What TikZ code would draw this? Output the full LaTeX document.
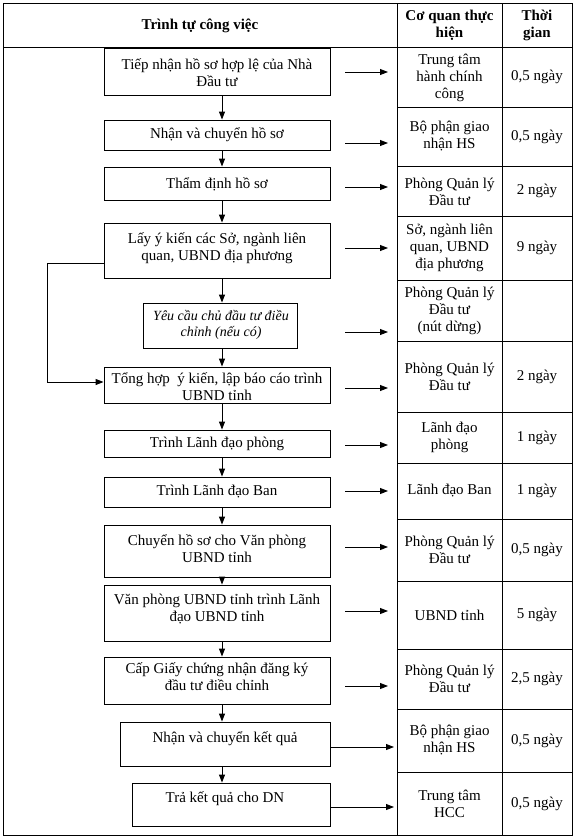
\documentclass[tikz,border=0pt]{standalone}
\usepackage{fontspec}
\setmainfont{Liberation Serif}
\usetikzlibrary{arrows.meta}
\begin{document}
\begin{tikzpicture}[x=1pt,y=-1pt,
  box/.style={draw, line width=0.9pt, inner sep=0pt},
  txt/.style={align=center, inner sep=0pt, font=\fontsize{15}{17}\selectfont},
  itx/.style={align=center, inner sep=0pt, font=\fontsize{14}{16.5}\selectfont\itshape},
  hdr/.style={align=center, inner sep=0pt, font=\fontsize{15}{17}\selectfont\bfseries},
  arr/.style={-{Triangle[length=8pt,width=6pt]}, line width=0.9pt},
  rule/.style={line width=0.9pt}]
\useasboundingbox (0,0) rectangle (575,839);
% table frame
\draw[rule] (3,3) rectangle (572,835);
\draw[rule] (3,47) -- (572,47);
\draw[rule] (397,3) -- (397,835);
\draw[rule] (502,3) -- (502,835);
\foreach \yy in {107,166,216,280,341,412,463,519,581,649,709,772}
  \draw[rule] (397,\yy) -- (572,\yy);
% header
\node[hdr] (h1) at (200,26) {Trình tự công việc};
\node[hdr] (h2) at (449.5,25) {Cơ quan thực\\hiện};
\node[hdr] (h3) at (537,25) {Thời\\gian};
% right columns
\node[txt] (c1) at (449.5,78) {Trung tâm\\hành chính\\công};
\node[txt] (d1) at (537,77) {0,5 ngày};
\node[txt] (c2) at (449.5,136.5) {Bộ phận giao\\nhận HS};
\node[txt] (d2) at (537,136.5) {0,5 ngày};
\node[txt] (c3) at (449.5,192) {Phòng Quản lý\\Đầu tư};
\node[txt] (d3) at (537,191) {2 ngày};
\node[txt] (c4) at (449.5,248) {Sở, ngành liên\\quan, UBND\\địa phương};
\node[txt] (d4) at (537,248) {9 ngày};
\node[txt] (c5) at (449.5,311) {Phòng Quản lý\\Đầu tư\\(nút dừng)};
\node[txt] (c6) at (449.5,376.5) {Phòng Quản lý\\Đầu tư};
\node[txt] (d6) at (537,376.5) {2 ngày};
\node[txt] (c7) at (449.5,437.5) {Lãnh đạo\\phòng};
\node[txt] (d7) at (537,437.5) {1 ngày};
\node[txt] (c8) at (449.5,491) {Lãnh đạo Ban};
\node[txt] (d8) at (537,491) {1 ngày};
\node[txt] (c9) at (449.5,550) {Phòng Quản lý\\Đầu tư};
\node[txt] (d9) at (537,550) {0,5 ngày};
\node[txt] (c10) at (449.5,615) {UBND tỉnh};
\node[txt] (d10) at (537,615) {5 ngày};
\node[txt] (c11) at (449.5,679) {Phòng Quản lý\\Đầu tư};
\node[txt] (d11) at (537,679) {2,5 ngày};
\node[txt] (c12) at (449.5,740.5) {Bộ phận giao\\nhận HS};
\node[txt] (d12) at (537,740.5) {0,5 ngày};
\node[txt] (c13) at (449.5,803.5) {Trung tâm\\HCC};
\node[txt] (d13) at (537,803.5) {0,5 ngày};
% process boxes
\node[box, minimum width=226pt, minimum height=47pt] (b1) at (217,71.5) {};
\node[box, minimum width=226pt, minimum height=30pt] (b2) at (217,135) {};
\node[box, minimum width=226pt, minimum height=33pt] (b3) at (217,183.5) {};
\node[box, minimum width=226pt, minimum height=55pt] (b4) at (217,250.5) {};
\node[box, minimum width=154pt, minimum height=45pt] (b5) at (220,325.5) {};
\node[box, minimum width=226pt, minimum height=36pt] (b6) at (217,385) {};
\node[box, minimum width=226pt, minimum height=27pt] (b7) at (217,443.5) {};
\node[box, minimum width=226pt, minimum height=30pt] (b8) at (217,492) {};
\node[box, minimum width=226pt, minimum height=52pt] (b9) at (217,551) {};
\node[box, minimum width=226pt, minimum height=56pt] (b10) at (217,613) {};
\node[box, minimum width=226pt, minimum height=47pt] (b11) at (217,680.5) {};
\node[box, minimum width=210pt, minimum height=44pt] (b12) at (225,744) {};
\node[box, minimum width=198pt, minimum height=43pt] (b13) at (231,804.5) {};
% box texts
\node[txt] (t1) at (217,73) {Tiếp nhận hồ sơ hợp lệ của Nhà\\Đầu tư};
\node[txt] (t2) at (217,135) {Nhận và chuyển hồ sơ};
\node[txt] (t3) at (217,184) {Thẩm định hồ sơ};
\node[txt] (t4) at (217,248) {Lấy ý kiến các Sở, ngành liên\\quan, UBND địa phương};
\node[itx] (t5) at (221,325) {Yêu cầu chủ đầu tư điều\\chỉnh (nếu có)};
\node[txt] (t6) at (217,387) {Tổng hợp\ \ ý kiến, lập báo cáo trình\\UBND tỉnh};
\node[txt] (t7) at (217,444) {Trình Lãnh đạo phòng};
\node[txt] (t8) at (217,492) {Trình Lãnh đạo Ban};
\node[txt] (t9) at (217,549) {Chuyển hồ sơ cho Văn phòng\\UBND tỉnh};
\node[txt] (t10) at (217,609) {Văn phòng UBND tỉnh trình Lãnh\\đạo UBND tỉnh};
\node[txt] (t11) at (217,677) {Cấp Giấy chứng nhận đăng ký\\đầu tư điều chỉnh};
\node[txt] (t12) at (225,739) {Nhận và chuyển kết quả};
\node[txt] (t13) at (225,799) {Trả kết quả cho DN};
% vertical arrows
\coordinate (ax) at (222,0);
\foreach \a/\b in {b1/b2,b2/b3,b3/b4,b4/b5,b5/b6,b6/b7,b7/b8,b8/b9,b9/b10,b10/b11,b11/b12,b12/b13}
  \draw[arr] (\a.south -| ax) -- (\b.north -| ax);
% loop from box 4 to box 6
\coordinate (lp1) at (47,263);
\coordinate (lp2) at (47,382);
\draw[arr] (b4.west |- lp1) -- (lp1) -- (lp2) -- (b6.west |- lp2);
% right arrows
\foreach \n/\yy in {1/72,2/143,3/187,4/248,5/332,6/388,7/445,8/491,9/547,10/611,11/686}{
  \coordinate (s\n) at (345,\yy);
  \coordinate (e\n) at (388,\yy);
  \draw[arr] (s\n) -- (e\n);
}
\coordinate (e12) at (394,747);
\coordinate (e13) at (394,807);
\draw[arr] (b12.east |- e12) -- (e12);
\draw[arr] (b13.east |- e13) -- (e13);
\end{tikzpicture}
\end{document}
